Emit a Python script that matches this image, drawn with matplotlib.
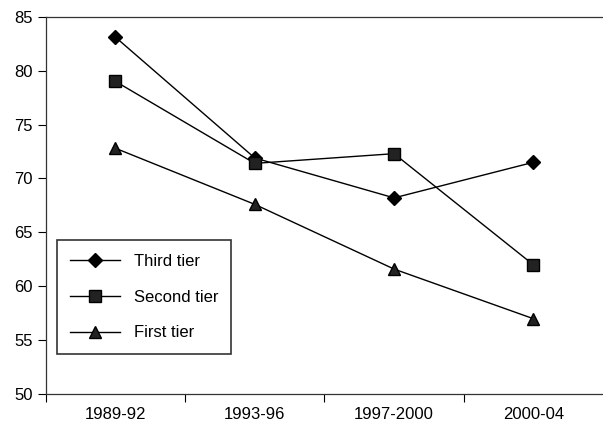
import matplotlib
matplotlib.use("Agg")
from matplotlib import pyplot as plt
import numpy as np

plt.rcParams['font.family'] = ['Liberation Sans', 'DejaVu Sans']

# data
periods = ["1989-92", "1993-96", "1997-2000", "2000-04"]
third_tier = [83.1, 71.9, 68.2, 71.5]
second_tier = [79.0, 71.4, 72.3, 62.0]
first_tier = [72.8, 67.6, 61.6, 57.0]

fig = plt.figure(figsize=(6.03, 4.28), dpi=100)
ax = fig.add_axes([0.076, 0.079, 0.924, 0.882])

x = np.arange(len(periods))
ax.plot(x, third_tier, color="black", lw=1, marker="D", ms=7, label="Third tier")
ax.plot(x, second_tier, color="black", lw=1, marker="s", ms=8, markerfacecolor="#222222", label="Second tier")
ax.plot(x, first_tier, color="black", lw=1, marker="^", ms=9, markerfacecolor="#222222", label="First tier")

ax.set_xlim(-0.5, 3.5)
ax.set_ylim(50, 85)
ax.set_yticks(range(50, 86, 5))

# ticks at category boundaries, labels at centres
ax.set_xticks(np.arange(-0.5, 3.5, 1))
ax.set_xticklabels([])
ax.set_xticks(x, minor=True)
ax.set_xticklabels(periods, minor=True, fontsize=12)
ax.tick_params(axis="x", which="minor", length=0, pad=9)
ax.tick_params(axis="x", which="major", length=6, direction="out", width=0.8)
ax.tick_params(axis="y", length=6, direction="out", labelsize=12, width=0.8)

ax.spines["right"].set_visible(False)
for s in ["left", "bottom", "top"]:
    ax.spines[s].set_linewidth(0.9)
    ax.spines[s].set_color("#333333")

leg = ax.legend(loc="lower left", bbox_to_anchor=(0.005, 0.085), fontsize=12,
                frameon=True, fancybox=False, edgecolor="black", handlelength=3,
                labelspacing=1.25, borderpad=0.8, handletextpad=0.8)
leg.get_frame().set_linewidth(1.2)

fig.savefig("out.png", dpi=100)
